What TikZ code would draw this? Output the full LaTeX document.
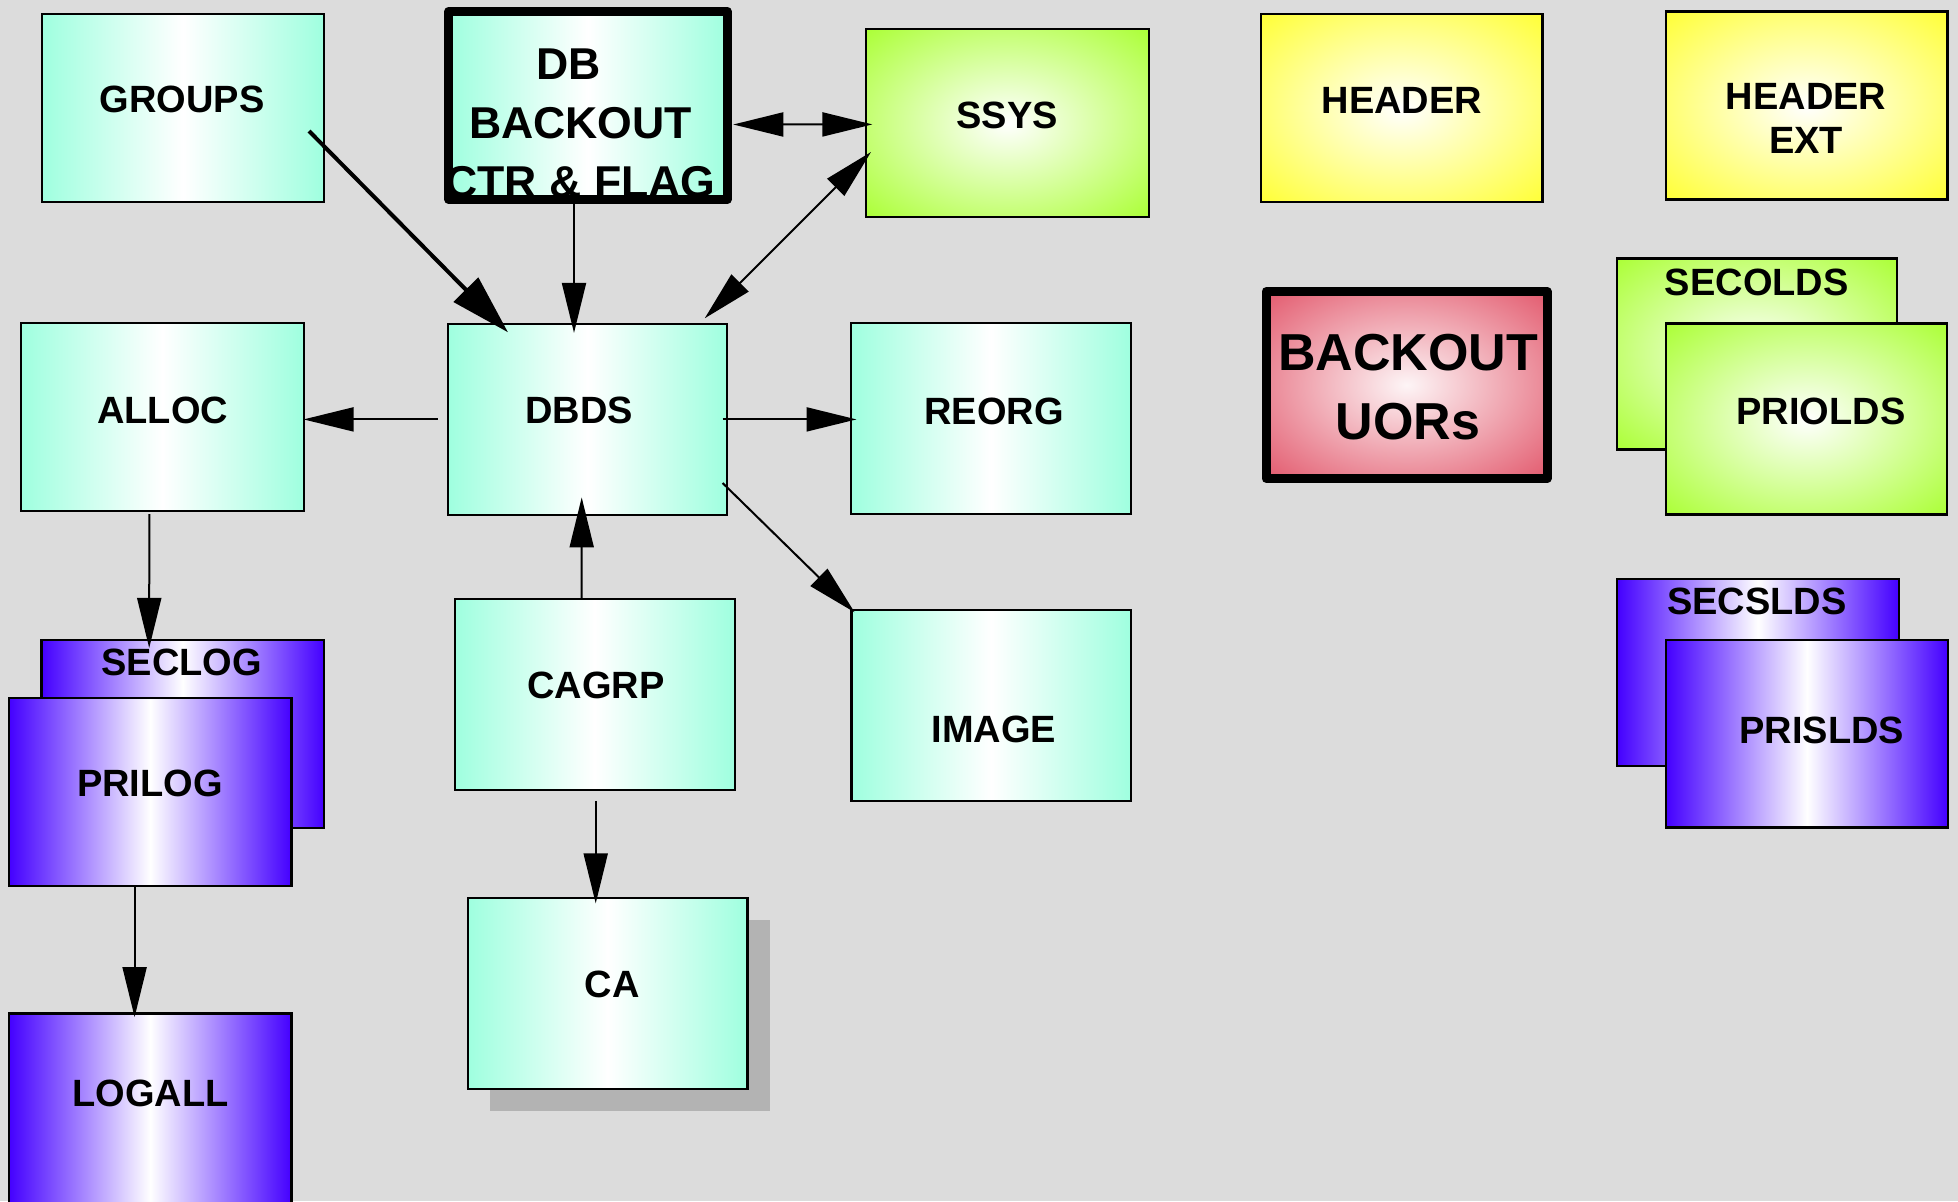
\documentclass[tikz,border=0pt]{standalone}
\usepackage{fontspec}
\setmainfont{Liberation Sans}
\usetikzlibrary{arrows.meta,calc,shadows}

\definecolor{bgc}{HTML}{DCDCDC}
\definecolor{boxaqua}{HTML}{9FFFDF}
\definecolor{boxblue}{HTML}{4400FF}
\definecolor{boxlime}{HTML}{AAFF33}
\definecolor{boxyellow}{HTML}{FFFF33}
\definecolor{boxrose}{HTML}{E2576B}
\definecolor{shadowgray}{HTML}{B3B3B3}
\colorlet{rosecore}{white!94!boxrose}

\pgfdeclareradialshading{limeglow}{\pgfpoint{0bp}{0bp}}%
  {color(0bp)=(white); color(36bp)=(boxlime); color(50bp)=(boxlime)}
\pgfdeclareradialshading{yellowglow}{\pgfpoint{0bp}{0bp}}%
  {color(0bp)=(white); color(36bp)=(boxyellow); color(50bp)=(boxyellow)}
\pgfdeclareradialshading{roseglow}{\pgfpoint{0bp}{0bp}}%
  {color(0bp)=(rosecore); color(36bp)=(boxrose); color(50bp)=(boxrose)}

\begin{document}
\begin{tikzpicture}[x=0.5pt,y=-0.5pt,
  boxsize/.style 2 args={minimum width=#1*0.5pt, minimum height=#2*0.5pt},
  box/.style={draw=black, line width=1.1pt, inner sep=0pt, outer sep=0pt,
    boxsize={281}{189}},
  aquabox/.style={box, left color=boxaqua, right color=boxaqua, middle color=white},
  bluebox/.style={box, left color=boxblue, right color=boxblue, middle color=white},
  limebox/.style={box, shade, shading=limeglow},
  yellowbox/.style={box, shade, shading=yellowglow},
  frame/.style={draw=black, line width=4.5pt, line join=round},
  lbl/.style={font=\bfseries\fontsize{19}{22}\selectfont, inner sep=0pt, align=center},
  conn/.style={line width=1pt, -{Triangle[length=25pt,width=12pt]}},
  biconn/.style={line width=1pt, {Triangle[length=25pt,width=12pt]}-{Triangle[length=25pt,width=12pt]}},
  heavyconn/.style={line width=2pt, -{Triangle[length=30pt,width=17pt]}}]

% canvas
\useasboundingbox (0,0) rectangle (1958,1201);
\fill[bgc] (0,0) rectangle (1958,1201);

% ---- top row
\node[aquabox, boxsize={282}{188}] (groups) at (183,108) {};
\node[aquabox, draw=none, boxsize={278.5}{188}] (dbbackout) at (588,105.5) {};
\node[limebox, boxsize={283}{188}] (ssys) at (1007.5,123) {};
\node[yellowbox, boxsize={281.5}{188}] (header) at (1401.7,108) {};
\node[yellowbox, boxsize={281.5}{188}] (headerext) at (1806.7,105.5) {};

% ---- middle row
\node[aquabox, boxsize={282.6}{188.4}] (alloc) at (162.3,416.8) {};
\node[aquabox, boxsize={279}{191}] (dbds) at (587.5,419.4) {};
\node[aquabox, boxsize={280}{191.4}] (reorg) at (991,418.3) {};
\node[box, draw=none, shade, shading=roseglow, boxsize={281}{187}] (backoutuors) at (1406.5,385) {};

% ---- stacked data sets on the right
\node[limebox, boxsize={279.7}{191}] (secolds) at (1756.8,354) {};
\node[limebox, boxsize={280.7}{191}] (priolds) at (1806.3,419) {};
\node[bluebox, boxsize={281.7}{187.3}] (secslds) at (1758,672.3) {};
\node[bluebox, boxsize={282}{187.5}] (prislds) at (1807,733.7) {};

% ---- log data sets on the left
\node[bluebox, boxsize={282.5}{188.3}] (seclog) at (182.8,733.8) {};
\node[bluebox, boxsize={282.5}{188}] (prilog) at (150.2,792) {};
\node[bluebox, boxsize={282.5}{191}] (logall) at (150.2,1109) {};

% ---- change accumulation
\node[aquabox, boxsize={280}{191}] (cagrp) at (594.7,694.4) {};
\node[aquabox, boxsize={279.4}{191},
  drop shadow={shadow xshift=11.2pt, shadow yshift=-11.2pt, fill=shadowgray, opacity=1}]
  (ca) at (607.7,993.2) {};
\node[aquabox, boxsize={279.6}{191}] (image) at (991.2,705.5) {};

% ---- labels
\node[lbl] (groups-t) at (182,99) {GROUPS};
\node[lbl, font=\bfseries\fontsize{22.3}{29.4}\selectfont] (dbbackout-t) at (580.5,123.5)
  {DB\hspace*{12pt}\\BACKOUT\\CTR \& FLAG};
\node[lbl] (ssys-t) at (1007,115.5) {SSYS};
\node[lbl] (header-t) at (1401.8,100.5) {HEADER};
\node[lbl] (headerext-t) at (1806,118.5) {HEADER\\EXT};
\node[lbl] (alloc-t) at (162.6,410) {ALLOC};
\node[lbl] (dbds-t) at (579,410) {DBDS};
\node[lbl] (reorg-t) at (994,411) {REORG};
\node[lbl, font=\bfseries\fontsize{26}{34.8}\selectfont] (backoutuors-t) at (1408,387) {BACKOUT\\UORs};
\node[lbl] (secolds-t) at (1756.7,282) {SECOLDS};
\node[lbl] (priolds-t) at (1821,411) {PRIOLDS};
\node[lbl] (secslds-t) at (1757,601.6) {SECSLDS};
\node[lbl] (prislds-t) at (1821.7,730) {PRISLDS};
\node[lbl] (seclog-t) at (181.8,662) {SECLOG};
\node[lbl] (prilog-t) at (150,783.3) {PRILOG};
\node[lbl] (logall-t) at (150.5,1093.5) {LOGALL};
\node[lbl] (cagrp-t) at (596,685) {CAGRP};
\node[lbl] (ca-t) at (612,984.2) {CA};
\node[lbl] (image-t) at (994,729) {IMAGE};

% ---- heavy frames drawn over their labels
\draw[frame] (dbbackout.north west) rectangle (dbbackout.south east);
\draw[frame] (backoutuors.north west) rectangle (backoutuors.south east);

% ---- connectors
\draw[heavyconn] ($(groups.east)+(-15,23)$) -- ($(dbds.north west)+(60,8.4)$);
\draw[conn] ($(dbbackout.south)+(-14,4.5)$) -- ($(dbds.north)+(-13.5,9)$);
\draw[biconn] ($(dbbackout.east)+(6,19)$) -- ($(ssys.west)+(6.4,1.4)$);
\draw[biconn] ($(ssys.west)+(5,29)$) -- ($(dbds.north east)+(-22.3,-5.6)$);
\draw[conn] ($(dbds.west)+(-10.5,0)$) -- ($(alloc.east)+(0,2.6)$);
\draw[conn] ($(dbds.east)+(-4.4,0)$) -- ($(reorg.west)+(5.5,1.1)$);
\draw[conn] ($(dbds.east)+(-4.4,63.6)$) -- ($(image.north west)+(3.2,2.3)$);
\draw[conn] ($(cagrp.north)+(-13,0)$) -- ($(dbds.south)+(-5.8,-17.5)$);
\draw[conn] ($(alloc.south)+(-13,3)$) -- ($(seclog.north)+(-33.6,8.3)$);
\draw[conn] ($(prilog.south)+(-15.6,0)$) -- ($(logall.north)+(-15.6,3.6)$);
\draw[conn] ($(cagrp.south)+(1,11)$) -- ($(ca.north)+(-12,5.7)$);

\end{tikzpicture}
\end{document}
